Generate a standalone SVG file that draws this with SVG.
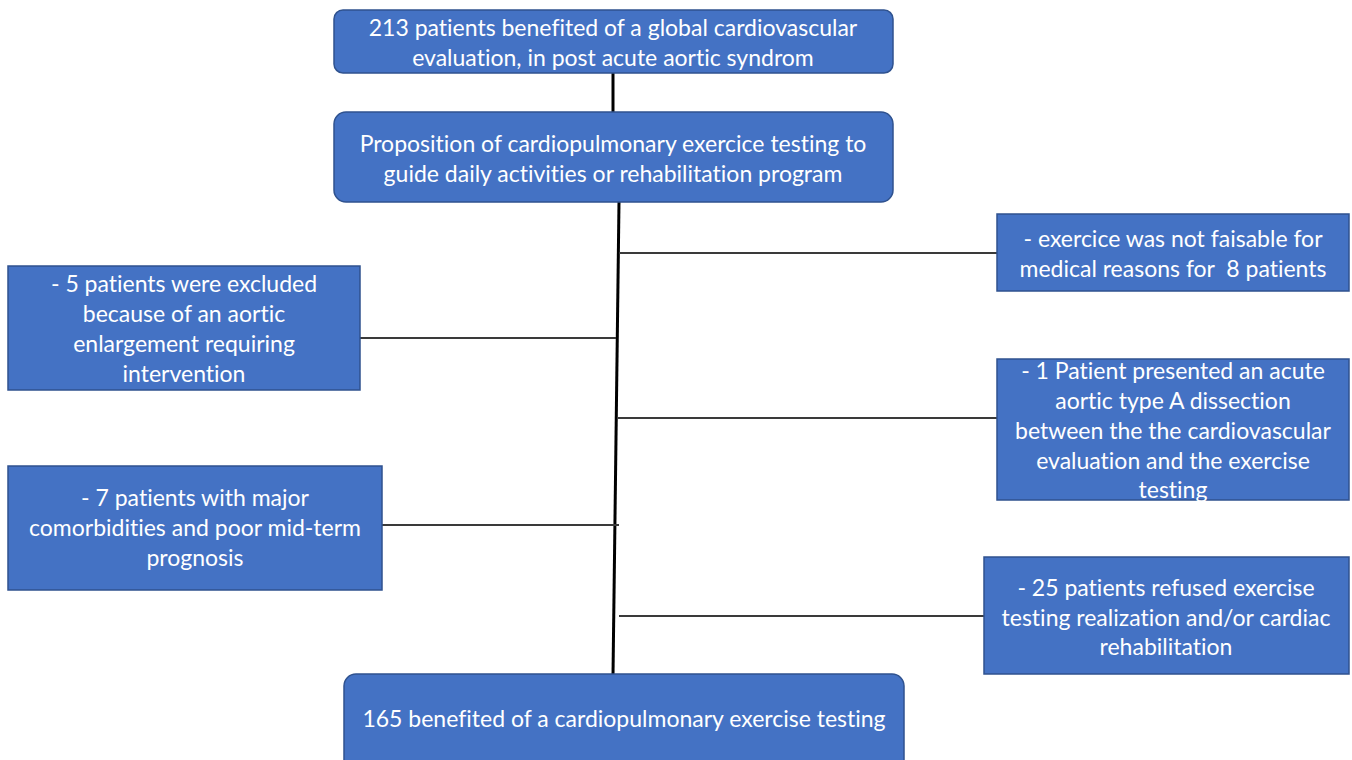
<svg xmlns="http://www.w3.org/2000/svg" width="1352" height="760" viewBox="0 0 1352 760">
<style>
.box{fill:#4472C4;stroke:#2F528F;stroke-width:1.5}
.t{font-family:Lato,"Liberation Sans",sans-serif;font-size:23px;fill:#ffffff;text-anchor:middle;dominant-baseline:central;font-variant-ligatures:none}
.main{stroke:#000;stroke-width:3;fill:none}
.br{stroke:#3a3a3a;stroke-width:1.8;fill:none}
</style>
<rect width="1352" height="760" fill="#ffffff"/>
<g id="connectors">
<line class="main" x1="613" y1="73" x2="613" y2="112"/>
<line class="main" x1="619" y1="202" x2="613" y2="675"/>
<line class="br" x1="619" y1="253" x2="997" y2="253"/>
<line class="br" x1="360" y1="338" x2="616" y2="338"/>
<line class="br" x1="618" y1="418" x2="997" y2="418"/>
<line class="br" x1="382" y1="525" x2="619" y2="525"/>
<line class="br" x1="619" y1="616" x2="984" y2="616"/>
</g>
<g id="n1">
<rect class="box" x="334" y="10" width="559" height="63" rx="9"/>
<text class="t" x="613" y="27">213 patients benefited of a global cardiovascular</text>
<text class="t" x="613" y="57">evaluation, in post acute aortic syndrom</text>
</g>
<g id="n2">
<rect class="box" x="334" y="112" width="559" height="90" rx="12"/>
<text class="t" x="613" y="143">Proposition of cardiopulmonary exercice testing to</text>
<text class="t" x="613" y="173">guide daily activities or rehabilitation program</text>
</g>
<g id="r1">
<rect class="box" x="997" y="214" width="352" height="77"/>
<text class="t" x="1173" y="238">- exercice was not faisable for</text>
<text class="t" x="1173" y="268" xml:space="preserve">medical reasons for  8 patients</text>
</g>
<g id="l1">
<rect class="box" x="8" y="266" width="352" height="124"/>
<text class="t" x="184" y="283">- 5 patients were excluded</text>
<text class="t" x="184" y="313">because of an aortic</text>
<text class="t" x="184" y="343">enlargement requiring</text>
<text class="t" x="184" y="373">intervention</text>
</g>
<g id="r2">
<rect class="box" x="997" y="359" width="352" height="141"/>
<text class="t" x="1173" y="370">- 1 Patient presented an acute</text>
<text class="t" x="1173" y="400">aortic type A dissection</text>
<text class="t" x="1173" y="430">between the the cardiovascular</text>
<text class="t" x="1173" y="460">evaluation and the exercise</text>
<text class="t" x="1173" y="489">testing</text>
</g>
<g id="l2">
<rect class="box" x="8" y="466" width="374" height="124"/>
<text class="t" x="195" y="497">- 7 patients with major</text>
<text class="t" x="195" y="527">comorbidities and poor mid-term</text>
<text class="t" x="195" y="557">prognosis</text>
</g>
<g id="r3">
<rect class="box" x="984" y="557" width="365" height="117"/>
<text class="t" x="1166" y="587">- 25 patients refused exercise</text>
<text class="t" x="1166" y="617">testing realization and/or cardiac</text>
<text class="t" x="1166" y="646">rehabilitation</text>
</g>
<g id="n3">
<rect class="box" x="344" y="674" width="560" height="100" rx="12"/>
<text class="t" x="624" y="718">165 benefited of a cardiopulmonary exercise testing</text>
</g>
</svg>
